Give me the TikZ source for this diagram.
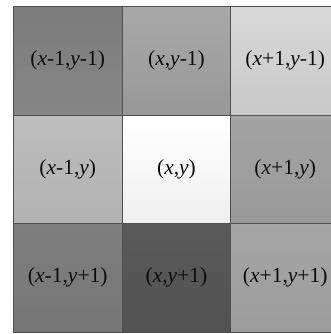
\documentclass[tikz,border=0pt]{standalone}
\usepackage{fontspec}
\setmainfont{Liberation Serif}
\definecolor{gA}{HTML}{7C7C7C}\definecolor{gAb}{HTML}{868686}
\definecolor{gB}{HTML}{A8A8A8}\definecolor{gBb}{HTML}{989898}
\definecolor{gC}{HTML}{D8D8D8}\definecolor{gCb}{HTML}{C9C9C9}
\definecolor{gD}{HTML}{BDBDBD}\definecolor{gDb}{HTML}{B2B2B2}
\definecolor{gE}{HTML}{FFFFFF}\definecolor{gEb}{HTML}{EFEFEF}
\definecolor{gF}{HTML}{A4A4A4}\definecolor{gFb}{HTML}{999999}
\definecolor{gG}{HTML}{7E7E7E}\definecolor{gGb}{HTML}{777777}
\definecolor{gH}{HTML}{595959}\definecolor{gHb}{HTML}{535353}
\definecolor{gI}{HTML}{A6A6A6}\definecolor{gIb}{HTML}{9C9C9C}
\definecolor{edge}{HTML}{505050}
\newcommand{\vx}{\textit{x}}
\newcommand{\vy}{\textit{y}}
\begin{document}
\begin{tikzpicture}[x=1pt,y=-1pt,
  cell/.style={draw=edge, line width=0.9pt, minimum width=108.7pt, minimum height=108.5pt,
    inner sep=0pt, font=\fontsize{21.5}{24}\selectfont, text=black!95},
  sh/.style 2 args={top color=#1, bottom color=#2}]
\clip (0,0) rectangle (331,334);
\fill[white] (0,0) rectangle (331,334);
\node[cell, sh={gA}{gAb}] (a11) at (67.75,60.75) {(\vx-1,\vy-1)};
\node[cell, sh={gB}{gBb}] (a21) at (176.5,60.75) {(\vx,\vy-1)};
\node[cell, sh={gC}{gCb}] (a31) at (285.25,60.75) {(\vx+1,\vy-1)};
\node[cell, sh={gD}{gDb}] (a12) at (67.75,169.25) {(\vx-1,\vy)};
\node[cell, sh={gE}{gEb}] (a22) at (176.5,169.25) {(\vx,\vy)};
\node[cell, sh={gF}{gFb}] (a32) at (285.25,169.25) {(\vx+1,\vy)};
\node[cell, sh={gG}{gGb}] (a13) at (67.75,277.75) {(\vx-1,\vy+1)};
\node[cell, sh={gH}{gHb}] (a23) at (176.5,277.75) {(\vx,\vy+1)};
\node[cell, sh={gI}{gIb}] (a33) at (285.25,277.75) {(\vx+1,\vy+1)};
\end{tikzpicture}
\end{document}
